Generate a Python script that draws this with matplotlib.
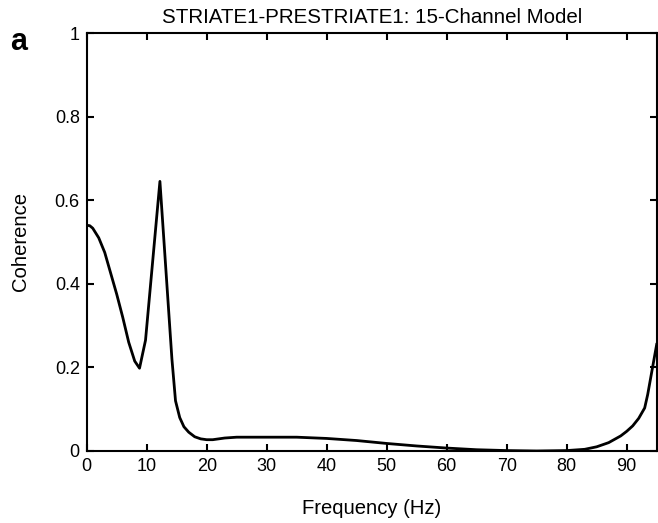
import numpy as np
import matplotlib
matplotlib.use('Agg')
import matplotlib.pyplot as plt

plt.rcParams['font.family'] = ['Liberation Sans', 'DejaVu Sans']

# values
freq = [0, 0.5, 1, 2, 3, 4, 5, 6, 7, 8, 8.8, 9.8, 12.2, 14.2, 14.8, 15.5,
        16.2, 17, 18, 19, 20, 21, 23, 25, 30, 35, 40, 45, 50, 55, 60, 65,
        70, 75, 80, 83, 85, 87, 89, 90, 91, 92, 93, 93.5, 94, 94.5, 95]
coh = [0.54, 0.539, 0.533, 0.51, 0.475, 0.425, 0.375, 0.32, 0.26, 0.215,
       0.198, 0.265, 0.645, 0.22, 0.12, 0.08, 0.058, 0.045, 0.034, 0.029,
       0.027, 0.027, 0.031, 0.033, 0.033, 0.033, 0.03, 0.025, 0.018, 0.012,
       0.007, 0.003, 0.001, 0.0, 0.001, 0.004, 0.01, 0.02, 0.036, 0.047,
       0.06, 0.078, 0.103, 0.135, 0.175, 0.215, 0.255]

xticks = [0, 10, 20, 30, 40, 50, 60, 70, 80, 90]
yticks = [0, 0.2, 0.4, 0.6, 0.8, 1]
ytick_labels = ['0', '0.2', '0.4', '0.6', '0.8', '1']

fig = plt.figure(figsize=(6.58, 5.23), dpi=100)
ax = fig.add_axes([0.1318, 0.1377, 0.8662, 0.7992])

ax.plot(freq, coh, color='black', lw=2)

ax.set_xlim(0, 95)
ax.set_ylim(0, 1)
ax.set_xticks(xticks)
ax.set_yticks(yticks)
ax.set_yticklabels(ytick_labels)
ax.tick_params(direction='in', length=5, width=1.5, labelsize=13,
               top=True, right=True, pad=5)
for s in ax.spines.values():
    s.set_linewidth(1.5)

ax.set_title('STRIATE1-PRESTRIATE1: 15-Channel Model', fontsize=14.8, pad=7)
ax.set_xlabel('Frequency (Hz)', fontsize=14.6, labelpad=17)
ax.set_ylabel('Coherence', fontsize=14.6, labelpad=18)
fig.text(0.016, 0.905, 'a', fontsize=22, fontweight='bold')

fig.savefig('out.png', dpi=100)
